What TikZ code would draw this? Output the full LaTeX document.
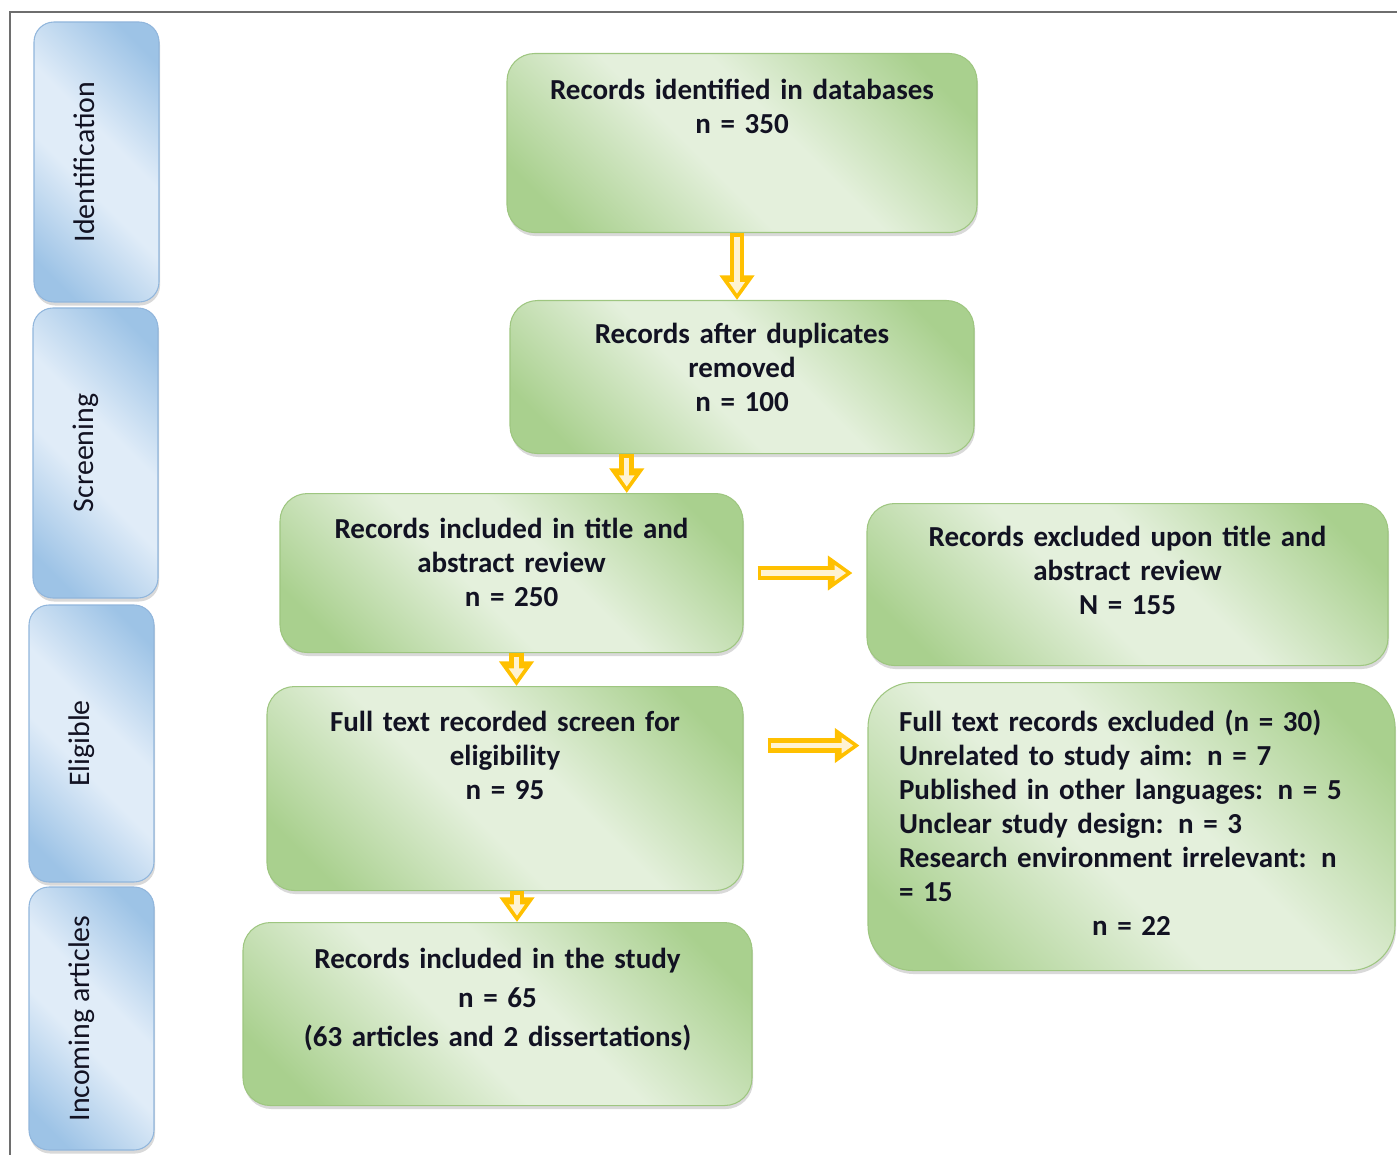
\documentclass[tikz,border=0pt]{standalone}
\usepackage{fontspec}
\setmainfont{Carlito}
\usetikzlibrary{arrows.meta,positioning,calc,shadows}
\definecolor{boxgreenD}{RGB}{169,208,142}
\definecolor{boxgreenL}{RGB}{228,240,220}
\definecolor{boxgreenB}{RGB}{158,198,128}
\definecolor{barblueD}{RGB}{157,195,230}
\definecolor{barblueL}{RGB}{224,236,248}
\definecolor{barblueB}{RGB}{145,182,220}
\definecolor{arrowyel}{RGB}{255,192,0}
\definecolor{arrowin}{RGB}{255,243,210}
\definecolor{framegray}{RGB}{110,110,110}
\definecolor{txtdark}{RGB}{18,18,34}
\pgfdeclareverticalshading{greenglow}{100bp}{color(0bp)=(boxgreenD); color(22bp)=(boxgreenD); color(44bp)=(boxgreenL); color(56bp)=(boxgreenL); color(78bp)=(boxgreenD); color(100bp)=(boxgreenD)}
\pgfdeclareverticalshading{blueglow}{100bp}{color(0bp)=(barblueD); color(22bp)=(barblueD); color(44bp)=(barblueL); color(56bp)=(barblueL); color(78bp)=(barblueD); color(100bp)=(barblueD)}
\newcommand{\stepfont}{\fontsize{16.5}{19.3}\selectfont\bfseries}
\newcommand{\barfont}{\fontsize{17}{20}\selectfont}

\begin{document}
\begin{tikzpicture}[
  stepbox/.style={draw=boxgreenB, line width=.6pt, rounded corners=.55cm,
              shading=greenglow, shading angle=-45, anchor=north,
              drop shadow={shadow xshift=.6pt, shadow yshift=-2pt, opacity=.3},
              align=center, inner xsep=.3cm, inner ysep=0pt,
              font=\stepfont, text=txtdark},
  stagebar/.style={draw=barblueB, line width=.6pt, rounded corners=.4cm,
              shading=blueglow, shading angle=-45, rotate=90,
              drop shadow={shadow xshift=.6pt, shadow yshift=-2pt, opacity=.3},
              text height=1.2cm, text depth=1.3cm, inner ysep=0pt,
              font=\barfont, text=txtdark},
  yarr/.style={draw=arrowyel, line width=8.5pt, -{Triangle[length=14pt,width=19pt]},
              postaction={draw=arrowin, line width=3pt,
                -{Triangle[length=6.5pt,width=8.5pt]}, shorten >=3.6pt, shorten <=2pt}}
]
\useasboundingbox (0,0) rectangle (27.94,-23.1);
\draw[framegray, line width=.8pt] (0.2,-23.1) |- (27.94,-0.24);

% phase bars
\node[stagebar, minimum width=5.6cm]  (ident)  at (1.93,-3.24)  {Identification};
\node[stagebar, minimum width=5.8cm]  (screen) at (1.91,-9.06)  {Screening};
\node[stagebar, minimum width=5.54cm] (elig)   at (1.83,-14.87) {Eligible};
\node[stagebar, minimum width=5.26cm] (incom)  at (1.83,-20.37) {Incoming articles};

% flow boxes
\node[stepbox, text width=8.8cm, text height=.92cm, text depth=2.66cm] (recid) at (14.84,-1.06)
  {Records identified in databases\\n = 350};
\node[stepbox, text width=8.68cm, text height=.86cm, text depth=2.2cm] (recdup) at (14.84,-6.0)
  {Records after duplicates\\removed\\n = 100};
\node[stepbox, text width=8.66cm, text height=.9cm, text depth=2.28cm] (recscr) at (10.23,-9.86)
  {Records included in title and\\abstract review\\n = 250};
\node[stepbox, text width=9.82cm, text height=.86cm, text depth=2.38cm] (recexc) at (22.55,-10.06)
  {Records excluded upon title and\\abstract review\\N = 155};
\node[stepbox, text width=8.92cm, text height=.9cm, text depth=3.18cm] (recfull) at (10.1,-13.72)
  {Full text recorded screen for\\eligibility\\n = 95};
\node[stepbox, rounded corners=.9cm, text width=9.3cm, inner xsep=.62cm, align=left,
      text height=.98cm, text depth=4.78cm] (recout) at (22.63,-13.64)
  {Full text records excluded (n = 30)\\Unrelated to study aim: n = 7\\
   Published in other languages: n = 5\\Unclear study design: n = 3\\
   Research environment irrelevant: n\\= 15\\\hfill n = 22\hfill\null};
\node[stepbox, text width=9.58cm, text height=.92cm, text depth=2.74cm] (recinc) at (9.95,-18.44)
  {Records included in the study\\[3pt]n = 65\\[3pt](63 articles and 2 dissertations)};

% arrows
\coordinate (mid) at ($(recdup.south)!.5!(recscr.north)$);
\draw[yarr] ([xshift=-.1cm]recid.south) -- ([xshift=-.1cm]recdup.north);
\draw[yarr] (mid |- recdup.south) -- (mid |- recscr.north);
\draw[yarr] ($(recscr.east)+(.28,0)$) -- ($(recscr.east -| recexc.west)+(-.28,0)$);
\draw[yarr] ([xshift=.1cm]recscr.south) -- ([xshift=.1cm]recscr.south |- recfull.north);
\draw[yarr] ($(recfull.east)+(.48,.86)$) -- ($(recfull.east -| recout.west)+(-.16,.86)$);
\draw[yarr] ([xshift=.24cm]recfull.south) -- ([xshift=.24cm]recfull.south |- recinc.north);
\end{tikzpicture}
\end{document}
